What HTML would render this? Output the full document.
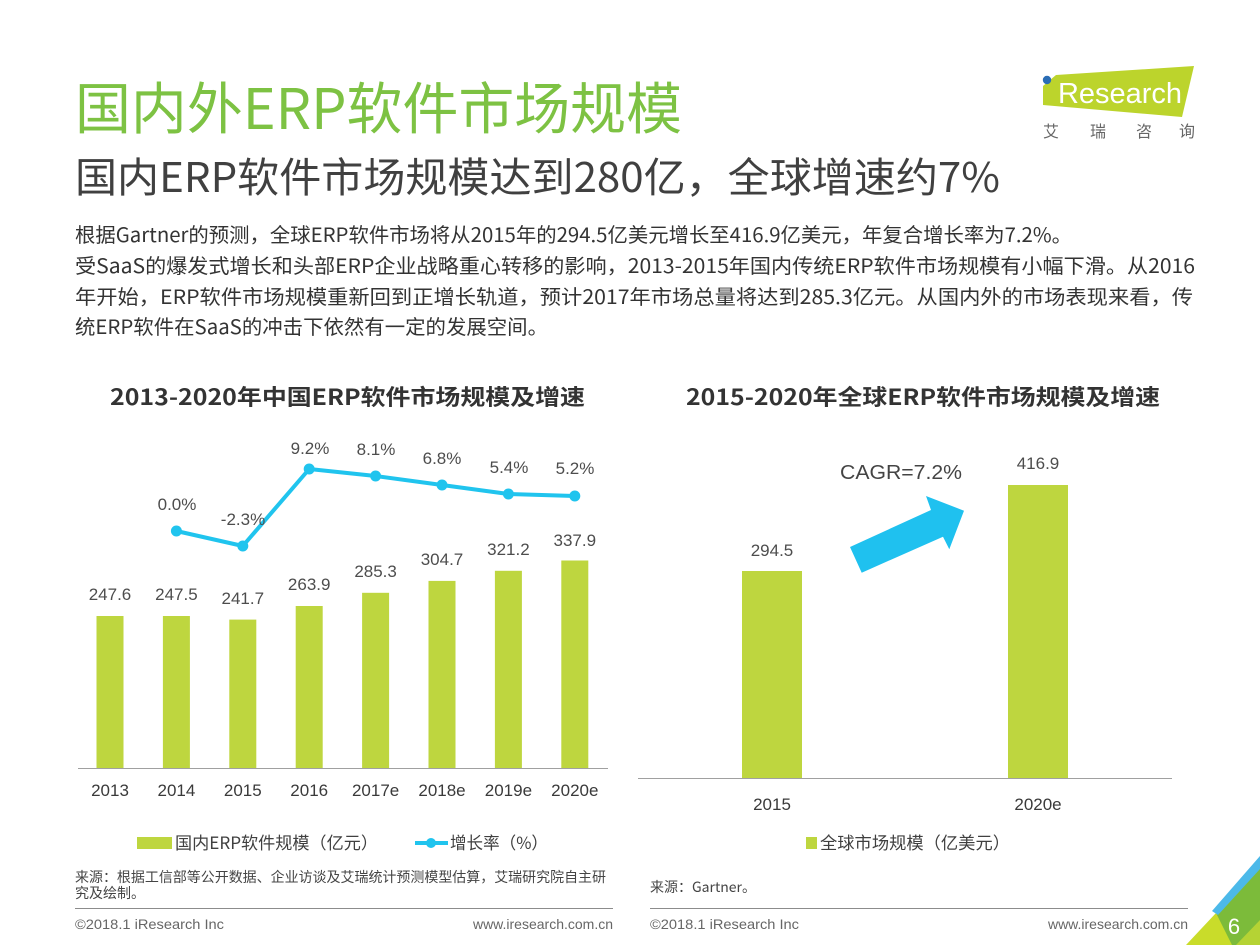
<!DOCTYPE html>
<html><head><meta charset="utf-8">
<style>
html,body{margin:0;padding:0;background:#fff;}
svg{display:block;}
text{font-family:"Liberation Sans","Noto Sans CJK SC",sans-serif;}
.cjk{font-family:"Noto Sans CJK SC","Liberation Sans",sans-serif;}
</style></head>
<body>
<svg width="1260" height="945" viewBox="0 0 1260 945" xmlns="http://www.w3.org/2000/svg">
<rect width="1260" height="945" fill="#fff"/>

<!-- Logo -->
<polygon points="1043,86 1056,75 1194,66 1182,117 1043,105" fill="#bcd42c"/>
<circle cx="1047" cy="80" r="4.2" fill="#2a6db5"/>
<text x="1058" y="103" font-size="29" fill="#fff" textLength="124" lengthAdjust="spacingAndGlyphs">Research</text>
<text class="cjk" x="1043" y="137" font-size="16" fill="#666">艾</text>
<text class="cjk" x="1090" y="137" font-size="16" fill="#666">瑞</text>
<text class="cjk" x="1136" y="137" font-size="16" fill="#666">咨</text>
<text class="cjk" x="1179" y="137" font-size="16" fill="#666">询</text>

<!-- Titles -->
<text class="cjk" x="75" y="129" font-size="56" fill="#7dc243" textLength="607" lengthAdjust="spacingAndGlyphs">国内外ERP软件市场规模</text>
<text class="cjk" x="75" y="192" font-size="41" fill="#404040" textLength="925" lengthAdjust="spacingAndGlyphs">国内ERP软件市场规模达到280亿，全球增速约7%</text>

<!-- Body -->
<text class="cjk" x="75" y="242" font-size="20" fill="#333" textLength="997" lengthAdjust="spacingAndGlyphs">根据Gartner的预测，全球ERP软件市场将从2015年的294.5亿美元增长至416.9亿美元，年复合增长率为7.2%。</text>
<text class="cjk" x="75" y="273" font-size="20" fill="#333" textLength="1120" lengthAdjust="spacingAndGlyphs">受SaaS的爆发式增长和头部ERP企业战略重心转移的影响，2013-2015年国内传统ERP软件市场规模有小幅下滑。从2016</text>
<text class="cjk" x="75" y="304" font-size="20" fill="#333" textLength="1118" lengthAdjust="spacingAndGlyphs">年开始，ERP软件市场规模重新回到正增长轨道，预计2017年市场总量将达到285.3亿元。从国内外的市场表现来看，传</text>
<text class="cjk" x="75" y="334" font-size="20" fill="#333" textLength="473" lengthAdjust="spacingAndGlyphs">统ERP软件在SaaS的冲击下依然有一定的发展空间。</text>

<!-- Chart titles -->
<text class="cjk" x="110" y="405" font-size="22" font-weight="bold" fill="#333" textLength="475" lengthAdjust="spacingAndGlyphs">2013-2020年中国ERP软件市场规模及增速</text>
<text class="cjk" x="686" y="405" font-size="22" font-weight="bold" fill="#333" textLength="474" lengthAdjust="spacingAndGlyphs">2015-2020年全球ERP软件市场规模及增速</text>

<!-- Left chart bars -->
<g fill="#bed63f">
<rect x="96.5" y="616" width="27" height="152"/>
<rect x="162.9" y="616" width="27" height="152"/>
<rect x="229.3" y="619.6" width="27" height="148.4"/>
<rect x="295.7" y="606" width="27" height="162"/>
<rect x="362.1" y="592.8" width="27" height="175.2"/>
<rect x="428.5" y="580.9" width="27" height="187.1"/>
<rect x="494.9" y="570.8" width="27" height="197.2"/>
<rect x="561.3" y="560.5" width="27" height="207.5"/>
</g>
<line x1="78" y1="768.5" x2="608" y2="768.5" stroke="#a0a0a0" stroke-width="1"/>
<g font-size="17" fill="#4d4d4d" text-anchor="middle">
<text x="110" y="600">247.6</text>
<text x="176.4" y="600">247.5</text>
<text x="242.8" y="604">241.7</text>
<text x="309.2" y="590">263.9</text>
<text x="375.6" y="577">285.3</text>
<text x="442" y="565">304.7</text>
<text x="508.4" y="555">321.2</text>
<text x="574.8" y="546">337.9</text>
</g>
<!-- line -->
<polyline points="176.4,531 242.8,546 309.2,469 375.6,476 442,485 508.4,494 574.8,496" fill="none" stroke="#20c4ee" stroke-width="4" stroke-linejoin="round"/>
<g fill="#20c4ee">
<circle cx="176.4" cy="531" r="5.5"/>
<circle cx="242.8" cy="546" r="5.5"/>
<circle cx="309.2" cy="469" r="5.5"/>
<circle cx="375.6" cy="476" r="5.5"/>
<circle cx="442" cy="485" r="5.5"/>
<circle cx="508.4" cy="494" r="5.5"/>
<circle cx="574.8" cy="496" r="5.5"/>
</g>
<g font-size="17" fill="#4d4d4d" text-anchor="middle">
<text x="177" y="510">0.0%</text>
<text x="243" y="525">-2.3%</text>
<text x="310" y="454">9.2%</text>
<text x="376" y="455">8.1%</text>
<text x="442" y="464">6.8%</text>
<text x="509" y="473">5.4%</text>
<text x="575" y="474">5.2%</text>
</g>
<g font-size="17" fill="#3a3a3a" text-anchor="middle">
<text x="110" y="796">2013</text>
<text x="176.4" y="796">2014</text>
<text x="242.8" y="796">2015</text>
<text x="309.2" y="796">2016</text>
<text x="375.6" y="796">2017e</text>
<text x="442" y="796">2018e</text>
<text x="508.4" y="796">2019e</text>
<text x="574.8" y="796">2020e</text>
</g>
<!-- Left legend -->
<rect x="137" y="837" width="35" height="12" fill="#bed63f"/>
<text class="cjk" x="175" y="849" font-size="17" fill="#404040" textLength="203" lengthAdjust="spacingAndGlyphs">国内ERP软件规模（亿元）</text>
<line x1="415" y1="843" x2="448" y2="843" stroke="#20c4ee" stroke-width="4"/>
<circle cx="431" cy="843" r="5" fill="#20c4ee"/>
<text class="cjk" x="450" y="849" font-size="17" fill="#404040" textLength="98" lengthAdjust="spacingAndGlyphs">增长率（%）</text>

<!-- Right chart -->
<rect x="742" y="571" width="60" height="207" fill="#bed63f"/>
<rect x="1008" y="485" width="60" height="293" fill="#bed63f"/>
<line x1="638" y1="778.5" x2="1172" y2="778.5" stroke="#a0a0a0" stroke-width="1"/>
<g font-size="17" fill="#4d4d4d" text-anchor="middle">
<text x="772" y="556">294.5</text>
<text x="1038" y="469">416.9</text>
</g>
<g font-size="17" fill="#3a3a3a" text-anchor="middle">
<text x="772" y="810">2015</text>
<text x="1038" y="810">2020e</text>
</g>
<text x="840" y="479" font-size="20" fill="#444" textLength="122" lengthAdjust="spacingAndGlyphs">CAGR=7.2%</text>
<polygon points="850,547 931,510 926,496 964,510.7 949.3,549.3 943,536.7 861.7,572.7" fill="#1fc1ef"/>
<rect x="806" y="837" width="11" height="12" fill="#bed63f"/>
<text class="cjk" x="820" y="849" font-size="17" fill="#404040" textLength="190" lengthAdjust="spacingAndGlyphs">全球市场规模（亿美元）</text>

<!-- Sources -->
<text class="cjk" x="75" y="882" font-size="14" fill="#444" textLength="531" lengthAdjust="spacingAndGlyphs">来源：根据工信部等公开数据、企业访谈及艾瑞统计预测模型估算，艾瑞研究院自主研</text>
<text class="cjk" x="75" y="898" font-size="14" fill="#444">究及绘制。</text>
<text class="cjk" x="650" y="892" font-size="14" fill="#444">来源：Gartner。</text>

<line x1="75" y1="908.5" x2="613" y2="908.5" stroke="#8c8c8c" stroke-width="1"/>
<line x1="650" y1="908.5" x2="1188" y2="908.5" stroke="#8c8c8c" stroke-width="1"/>

<g font-size="14" fill="#666">
<text x="75" y="929" textLength="149" lengthAdjust="spacingAndGlyphs">©2018.1 iResearch Inc</text>
<text x="613" y="929" text-anchor="end">www.iresearch.com.cn</text>
<text x="650" y="929" textLength="149" lengthAdjust="spacingAndGlyphs">©2018.1 iResearch Inc</text>
<text x="1188" y="929" text-anchor="end">www.iresearch.com.cn</text>
</g>

<!-- Corner decoration -->
<polygon points="1186,945 1216,913 1240,945" fill="#c9dc2a"/>
<polygon points="1216,913 1260,866 1260,945 1232,945" fill="#7cbb3a"/>
<polygon points="1212,911 1260,856 1260,869 1218,915" fill="#4cb9e9"/>
<polygon points="1236,945 1260,920 1260,945" fill="#b5d334"/>
<text x="1234" y="934" font-size="22" fill="#fff" text-anchor="middle">6</text>
</svg>
</body></html>
